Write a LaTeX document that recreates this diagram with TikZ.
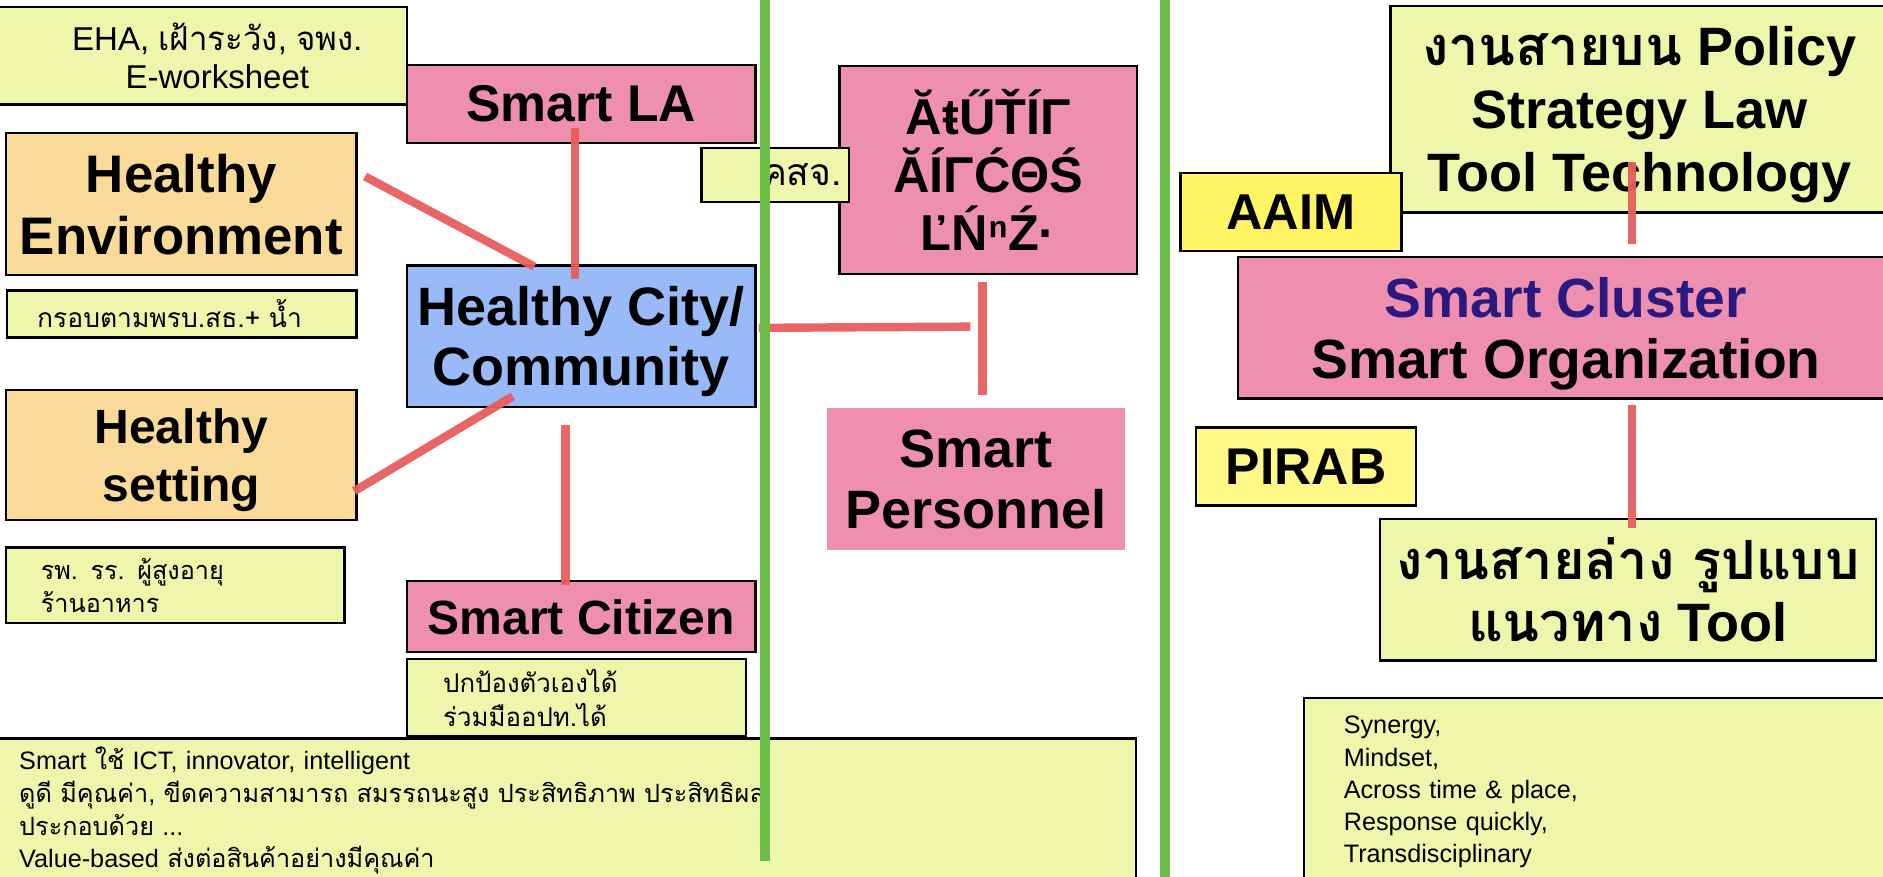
\documentclass[tikz,border=0pt]{standalone}
\usepackage{fontspec}
\setmainfont{Liberation Sans}
\newfontfamily\thai[Script=Thai]{Loma}
\definecolor{ygc}{HTML}{EEF6AC}
\definecolor{pinkc}{HTML}{EF8FB0}
\definecolor{orangec}{HTML}{FADA98}
\definecolor{bluec}{HTML}{99B9F8}
\definecolor{yelc}{HTML}{FFF564}
\definecolor{yellc}{HTML}{FFF888}
\definecolor{redc}{HTML}{E95D5D}
\definecolor{greenc}{HTML}{6CBE46}
\definecolor{clublue}{HTML}{2A1A80}
\newcommand\FS[2]{\fontsize{#1}{#2}\selectfont}
\tikzset{
  box/.style={draw=black, line width=2pt, inner sep=0pt, anchor=north west, align=center},
  bigbox/.style={box, font=\bfseries, text depth=0pt},
  ygbox/.style={box, fill=ygc},
  leftbox/.style={box, fill=ygc, align=left},
  redline/.style={draw=redc, line width=7pt, opacity=0.95},
  greenline/.style={draw=greenc, line width=8pt},
}
\begin{document}
\begin{tikzpicture}[x=1pt,y=-1pt]
\useasboundingbox (0,0) rectangle (1568,729.5);
\clip (0,0) rectangle (1568,729.5);
\fill[white] (0,0) rectangle (1568,729.5);

% ---------- left column ----------
\node[ygbox, minimum width=340pt, minimum height=81pt, font=\FS{27.5}{31}] (eha) at (-2,5)
  {\hspace*{24pt}EHA, {\thai เฝ้าระวัง}, {\thai จพง.}\\\hspace*{24pt}E-worksheet};
\node[bigbox, fill=pinkc, minimum width=290pt, minimum height=65pt, font=\bfseries\FS{43}{50}] (la) at (338,53) {Smart LA};
\node[bigbox, fill=orangec, minimum width=292pt, minimum height=118pt, font=\bfseries\FS{44}{52}] (env) at (4,110) {Healthy\\Environment};
\node[leftbox, minimum width=291pt, minimum height=39pt, text width=241pt, inner xsep=25pt, font=\thai\FS{22}{26}] (krob) at (5,241) {กรอบตามพรบ.สธ.+ น้ำ};
\node[bigbox, fill=bluec, minimum width=290pt, minimum height=118pt, font=\bfseries\FS{45}{50}] (hc) at (338,220) {Healthy City/\\Community};
\node[bigbox, fill=orangec, minimum width=292pt, minimum height=108pt, font=\bfseries\FS{40}{48}] (set) at (4,324) {Healthy\\setting};
\node[leftbox, minimum width=282pt, minimum height=63pt, text width=224pt, inner xsep=29pt, font=\thai\FS{21}{28}] (rp) at (4,455) {รพ. รร. ผู้สูงอายุ\\ร้านอาหาร};
\node[bigbox, fill=pinkc, minimum width=290pt, minimum height=59pt, font=\bfseries\FS{40}{48}] (cit) at (338,483) {Smart Citizen};
\node[leftbox, minimum width=282pt, minimum height=64pt, text width=222pt, inner xsep=30pt, font=\thai\FS{21.5}{28}] (pk) at (338,548) {ปกป้องตัวเองได้\\ร่วมมืออปท.ได้};
\node[leftbox, minimum width=948pt, minimum height=120pt, text width=912pt, inner xsep=18pt, font=\FS{21}{27.3}] (bot) at (-3,614)
  {Smart {\thai ใช้} ICT, innovator, intelligent\\
   {\thai ดูดี มีคุณค่า}, {\thai ขีดความสามารถ สมรรถนะสูง ประสิทธิภาพ ประสิทธิผล}\\
   {\thai ประกอบด้วย} ...\\
   Value-based {\thai ส่งต่อสินค้าอย่างมีคุณค่า}};

% ---------- middle column ----------
\node[bigbox, fill=pinkc, minimum width=248pt, minimum height=173pt, font=\bfseries\FS{42}{48.5}] (garb) at (698,54) {ĂŧŰŤÍΓ\\ĂÍΓĆΘŚ\\ĽŃⁿŹ·};
\node[box, fill=ygc, minimum width=123pt, minimum height=45pt, text width=111pt, inner xsep=6pt, align=right, font=\thai\FS{31}{34}] (kso) at (583,122) {คสจ.};
\node[bigbox, draw=none, fill=pinkc, minimum width=248pt, minimum height=118pt, font=\bfseries\FS{45}{51}] (per) at (688,339) {Smart\\Personnel};

% ---------- right column ----------
\node[bigbox, fill=ygc, minimum width=414pt, minimum height=172pt, font=\bfseries\FS{45}{52.5}] (top) at (1157,4) {{\thai งานสายบน} Policy\\Strategy Law\\Tool Technology};
\node[bigbox, fill=yelc, minimum width=184pt, minimum height=65pt, font=\bfseries\FS{42}{48}] (aaim) at (982,143) {AAIM};
\node[bigbox, fill=pinkc, minimum width=546pt, minimum height=118pt, font=\bfseries\FS{46}{51}] (clu) at (1030,213) {{\color{clublue}Smart Cluster}\\Smart Organization};
\node[bigbox, fill=yellc, minimum width=183pt, minimum height=65pt, font=\bfseries\FS{43}{48}] (pirab) at (995,355) {PIRAB};
\node[bigbox, fill=ygc, minimum width=413pt, minimum height=118pt, font=\bfseries\FS{45}{52}] (low) at (1148,431) {{\thai งานสายล่าง รูปแบบ}\\{\thai แนวทาง} Tool};
\node[leftbox, minimum width=540pt, minimum height=157pt, text width=474pt, inner xsep=33pt, font=\FS{21}{26.75}] (syn) at (1085,580)
  {Synergy,\\Mindset,\\Across time \& place,\\Response quickly,\\Transdisciplinary};

% ---------- red connectors ----------
\draw[redline] ([xshift=-5pt,yshift=13pt]la.south) -- ([xshift=-5pt,yshift=-12pt]hc.north);
\draw[redline] ([xshift=6pt,yshift=23pt]env.east) -- ([xshift=107pt,yshift=-2pt]hc.north west);
\draw[redline] ([xshift=-3pt,yshift=-30pt]set.east) -- ([xshift=89pt,yshift=10pt]hc.south west);
\draw[redline] ([xshift=-13pt,yshift=-14pt]hc.south) -- ([xshift=-13pt,yshift=-4pt]cit.north);
\coordinate (jn) at (808,272);
\draw[redline] ([xshift=2pt,yshift=7pt]hc.east) -- (jn);
\draw[redline] ([xshift=-5pt,yshift=-6pt]garb.south) -- ([xshift=5pt,yshift=10pt]per.north);
\draw[redline] ([xshift=-6pt,yshift=43pt]top.south) -- ([xshift=55pt,yshift=10pt]clu.north);
\draw[redline] ([xshift=55pt,yshift=-4pt]clu.south) -- ([xshift=3.5pt,yshift=-9pt]low.north);

% ---------- green dividers ----------
\coordinate (g1t) at (637,0);
\coordinate (g1b) at (637,717);
\coordinate (g2t) at (970,0);
\coordinate (g2b) at (970,735);
\draw[greenline] (g1t) -- (g1b);
\draw[greenline] (g2t) -- (g2b);
\end{tikzpicture}
\end{document}
